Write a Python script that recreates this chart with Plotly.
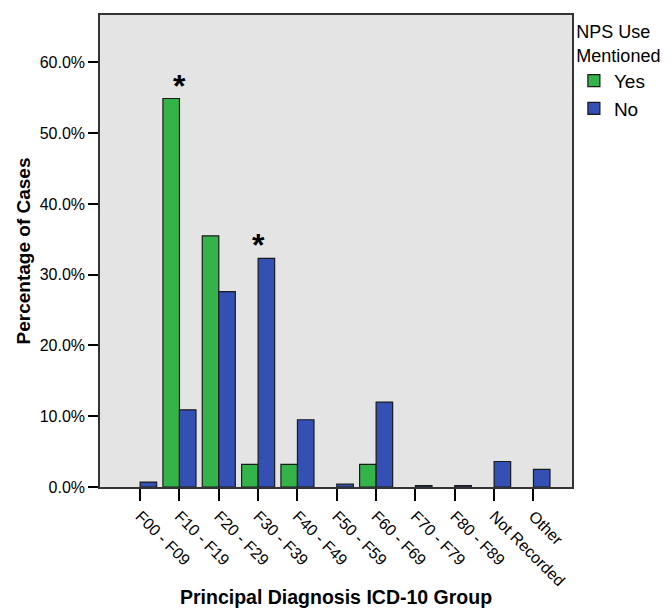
import plotly.graph_objects as go

categories = ["F00 - F09", "F10 - F19", "F20 - F29", "F30 - F39", "F40 - F49",
              "F50 - F59", "F60 - F69", "F70 - F79", "F80 - F89", "Not Recorded", "Other"]
yes_values = [0.0, 54.9, 35.5, 3.2, 3.2, 0.0, 3.2, 0.0, 0.0, 0.0, 0.0]
no_values = [0.7, 10.9, 27.6, 32.3, 9.5, 0.4, 12.0, 0.2, 0.2, 3.6, 2.5]
y_ticks = [0, 10, 20, 30, 40, 50, 60]
y_tick_labels = ["0.0%", "10.0%", "20.0%", "30.0%", "40.0%", "50.0%", "60.0%"]
# significance markers: (category index, series values)
starred = [(1, yes_values), (3, no_values)]

FONT = "Arial, Liberation Sans, sans-serif"
GREEN = "#35b34b"
BLUE = "#3450b5"


def drawn(values):
    # zero-height bars are not drawn at all in the reference
    return [v if v > 0 else None for v in values]


fig = go.Figure()
fig.add_trace(go.Bar(x=categories, y=drawn(yes_values), name="Yes",
                     marker=dict(color=GREEN, line=dict(color="#1a1a1a", width=1.2))))
fig.add_trace(go.Bar(x=categories, y=drawn(no_values), name="No",
                     marker=dict(color=BLUE, line=dict(color="#1a1a1a", width=1.2))))

for idx, series in starred:
    fig.add_annotation(x=categories[idx], y=series[idx], text="<b>*</b>",
                       showarrow=False, yanchor="bottom", yshift=-7,
                       font=dict(family=FONT, size=32, color="black"))

# x-axis title placed as a paper annotation below the rotated labels
fig.add_annotation(x=0.5, y=0, xref="paper", yref="paper", yanchor="middle",
                   yshift=-110, showarrow=False,
                   text="<b>Principal Diagnosis ICD-10 Group</b>",
                   font=dict(family=FONT, size=19.5, color="black"))

fig.update_layout(
    width=671, height=609,
    margin=dict(l=92, r=107, t=7, b=130, autoexpand=False),
    paper_bgcolor="white",
    plot_bgcolor="#e4e4e4",
    barmode="group",
    bargap=0.16,
    bargroupgap=0,
    font=dict(family=FONT, size=16, color="black"),
    showlegend=True,
    legend=dict(x=1.004, y=1.0, xanchor="left", yanchor="top",
                title=dict(text="NPS Use<br>Mentioned", side="top center",
                           font=dict(family=FONT, size=18)),
                font=dict(family=FONT, size=19),
                itemwidth=30, tracegroupgap=0, bgcolor="rgba(0,0,0,0)"),
)

fig.update_xaxes(
    type="category",
    range=[-1.02, 10.98],
    tickangle=45,
    ticks="outside", ticklen=12, tickcolor="black", tickwidth=1.5,
    showline=True, linecolor="#333333", linewidth=1.5, mirror=True,
    showgrid=False, zeroline=False, automargin=False,
    tickfont=dict(family=FONT, size=16),
)
fig.update_yaxes(
    range=[0, 66.7],
    tickvals=y_ticks, ticktext=y_tick_labels,
    ticks="outside", ticklen=10, tickcolor="black", tickwidth=1.5,
    showline=True, linecolor="#333333", linewidth=1.5, mirror=True,
    showgrid=False, zeroline=False, automargin=False,
    tickfont=dict(family=FONT, size=16),
    title=dict(text="<b>Percentage of Cases</b>", standoff=4,
               font=dict(family=FONT, size=19)),
)

fig.write_html("out.html")
